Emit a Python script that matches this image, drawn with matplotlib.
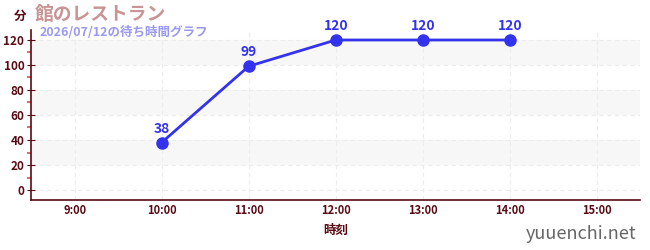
import numpy as np
import matplotlib
matplotlib.use("Agg")
import matplotlib.pyplot as plt
from matplotlib.ticker import MultipleLocator, FixedLocator

plt.rcParams['font.family'] = ['Noto Sans CJK JP', 'DejaVu Sans']

hours = [10, 11, 12, 13, 14]
waits = [38, 99, 120, 120, 120]
tick_hours = [9, 10, 11, 12, 13, 14, 15]
tick_labels = ['9:00', '10:00', '11:00', '12:00', '13:00', '14:00', '15:00']

title = '館のレストラン'
subtitle = '2026/07/12の待ち時間グラフ'
dark = '#5a0a14'
blue = '#3333ee'

fig = plt.figure(figsize=(6.5, 2.5), dpi=100)
ax = fig.add_axes([0.048, 0.2, 0.937, 0.68])
ax.set_xlim(8.5, 15.5)
ax.set_ylim(-8, 128)

# grey bands
for lo in (20, 60, 100):
    ax.axhspan(lo, lo + 20, color='#f7f7f7', zorder=0, lw=0)
for h in tick_hours:
    ax.axvline(h, color='#ececec', lw=0.8, ls=(0, (4, 3)), zorder=1)
for v in range(0, 121, 20):
    ax.axhline(v, color='#ececec', lw=0.8, ls=(0, (4, 3)), zorder=1)

ax.plot(hours, waits, color=blue, lw=2, marker='o', ms=8, zorder=3)
for h, w in zip(hours, waits):
    ax.annotate(str(w), (h, w), xytext=(0, 5), textcoords='offset points',
                ha='center', va='bottom', color=blue, fontsize=10, fontweight='bold')

ax.xaxis.set_major_locator(FixedLocator(tick_hours))
ax.set_xticklabels(tick_labels)
ax.yaxis.set_major_locator(MultipleLocator(20))
ax.yaxis.set_minor_locator(MultipleLocator(10))
ax.tick_params(axis='y', which='major', direction='inout', length=6, color=dark,
               labelcolor=dark, labelsize=8.5, pad=2)
ax.tick_params(axis='y', which='minor', direction='out', length=3, color='#ee6666', width=1.5)
ax.tick_params(axis='x', which='major', length=0, labelcolor=dark, labelsize=8, pad=3)
for lbl in ax.get_xticklabels() + ax.get_yticklabels():
    lbl.set_fontweight('bold')

for s in ('top', 'right'):
    ax.spines[s].set_visible(False)
for s in ('left', 'bottom'):
    ax.spines[s].set_color(dark)
    ax.spines[s].set_linewidth(1.2)

ax.set_xlabel('時刻', color=dark, fontsize=9, fontweight='bold', labelpad=5)

fig.text(20 / 650, 1 - 16 / 250, '分', color=dark, fontsize=9, fontweight='bold',
         ha='center', va='center')
fig.text(35 / 650, 1 - 14 / 250, title, color='#c89494', fontsize=13.5, fontweight='bold',
         ha='left', va='center')
fig.text(40 / 650, 1 - 32 / 250, subtitle, color='#9a9af0', fontsize=9, fontweight='bold',
         ha='left', va='center')
fig.text(636 / 650, 1 - 234 / 250, 'yuuenchi.net', color='#666666', fontsize=13,
         ha='right', va='center')

fig.savefig('out.png', dpi=100)
